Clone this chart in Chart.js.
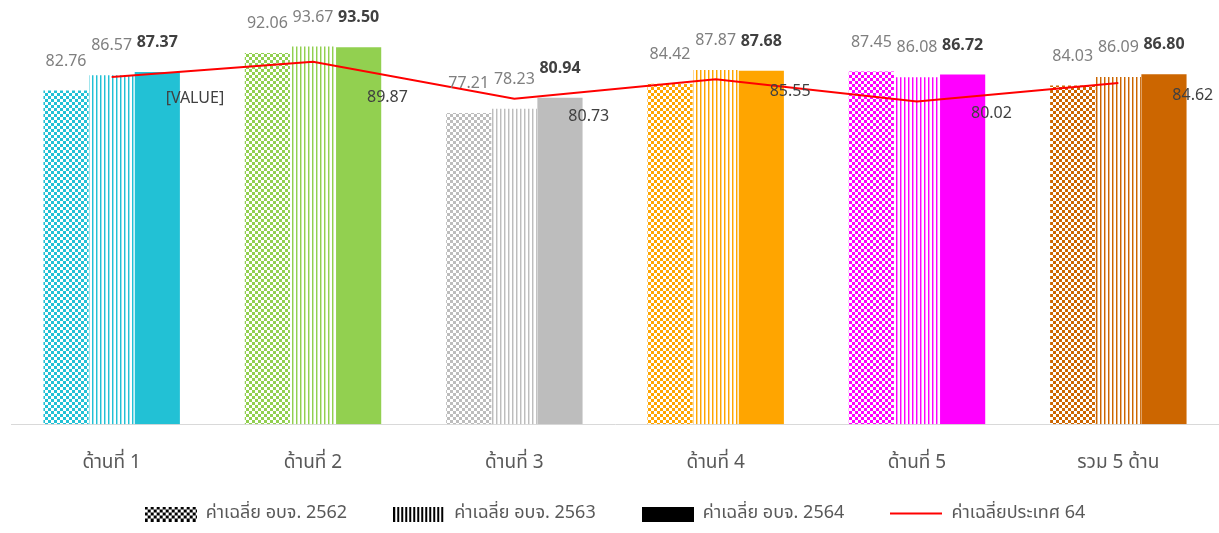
<!DOCTYPE html>
<html>
<head>
<meta charset="utf-8">
<script src="https://cdn.jsdelivr.net/npm/chart.js"></script>
<style>
  html, body { margin: 0; padding: 0; background: #fff; }
  #wrap { width: 1219px; height: 533px; }
</style>
</head>
<body>
<div id="wrap"><canvas id="chart"></canvas></div>
<script>
// data
const categories = ['ด้านที่ 1', 'ด้านที่ 2', 'ด้านที่ 3', 'ด้านที่ 4', 'ด้านที่ 5', 'รวม 5 ด้าน'];
const avg2562 = [82.76, 92.06, 77.21, 84.42, 87.45, 84.03];
const avg2563 = [86.57, 93.67, 78.23, 87.87, 86.08, 86.09];
const avg2564 = [87.37, 93.50, 80.94, 87.68, 86.72, 86.80];
const national64 = [86.1, 89.87, 80.73, 85.55, 80.02, 84.62];
const nationalLabels = ['[VALUE]', '89.87', '80.73', '85.55', '80.02', '84.62'];
const seriesNames = ['ค่าเฉลี่ย อบจ. 2562', 'ค่าเฉลี่ย อบจ. 2563', 'ค่าเฉลี่ย อบจ. 2564', 'ค่าเฉลี่ยประเทศ 64'];

const groupColors = ['#22C1D5', '#92D050', '#BDBDBD', '#FFA500', '#FF00FF', '#CC6600'];

const FONT = "'Noto Sans Thai', 'Noto Sans', 'DejaVu Sans', sans-serif";

function checker(color, size) {
    const c = document.createElement('canvas');
    c.width = size * 2; c.height = size * 2;
    const g = c.getContext('2d');
    g.fillStyle = '#fff';
    g.fillRect(0, 0, c.width, c.height);
    g.fillStyle = color;
    g.fillRect(0, 0, size, size);
    g.fillRect(size, size, size, size);
    return c;
}

function stripes(color) {
    const c = document.createElement('canvas');
    c.width = 4; c.height = 4;
    const g = c.getContext('2d');
    g.fillStyle = '#fff';
    g.fillRect(0, 0, 4, 4);
    g.fillStyle = color;
    g.fillRect(0, 0, 1, 4);
    g.globalAlpha = 0.45;
    g.fillRect(1, 0, 1, 4);
    return c;
}

const ctx = document.getElementById('chart').getContext('2d');
const checkerFills = groupColors.map(c => ctx.createPattern(checker(c, 3), 'repeat'));
const stripeFills = groupColors.map(c => ctx.createPattern(stripes(c), 'repeat'));

// legend swatches
function swatch(kind) {
    const c = document.createElement('canvas');
    c.width = 52; c.height = 15;
    const g = c.getContext('2d');
    if (kind === 'checker') {
        g.fillStyle = g.createPattern(checker('#000', 3), 'repeat');
        g.fillRect(0, 0, 52, 15);
    } else if (kind === 'stripes') {
        g.fillStyle = '#000';
        for (let x = 0; x < 52; x += 4) g.fillRect(x, 0, 2, 15);
    } else if (kind === 'solid') {
        g.fillStyle = '#000';
        g.fillRect(0, 0, 52, 15);
    } else {
        g.fillStyle = '#ff0000';
        g.fillRect(0, 6, 52, 2);
    }
    return c;
}
const legendSwatches = [swatch('checker'), swatch('stripes'), swatch('solid'), swatch('line')];

// value labels above bars and beside the line
const labelPlugin = {
    id: 'valueLabels',
    afterDatasetsDraw(chart) {
        const c = chart.ctx;
        c.save();
        c.textBaseline = 'middle';
        chart.data.datasets.forEach((ds, i) => {
            const meta = chart.getDatasetMeta(i);
            if (ds.type === 'line') {
                const offs = [23, 37, 19, 14, 13, 14];
                c.font = '16px ' + FONT;
                c.fillStyle = '#404040';
                c.textAlign = 'left';
                meta.data.forEach((pt, j) => {
                    c.fillText(nationalLabels[j], pt.x + 54, pt.y + offs[j]);
                });
            } else {
                c.textAlign = 'center';
                c.font = (i === 3 ? 'bold ' : '') + '16px ' + FONT;
                c.fillStyle = i === 3 ? '#404040' : '#7f7f7f';
                meta.data.forEach((bar, j) => {
                    c.fillText(ds.data[j].toFixed(2), bar.x, bar.y - 28);
                });
            }
        });
        c.restore();
    }
};

new Chart(ctx, {
    data: {
        labels: categories,
        datasets: [{
            type: 'line',
            label: seriesNames[3],
            data: national64,
            borderColor: '#ff0000',
            borderWidth: 2,
            pointRadius: 0,
            tension: 0,
            order: 0
        }, {
            type: 'bar',
            label: seriesNames[0],
            data: avg2562,
            backgroundColor: checkerFills,
            order: 1
        }, {
            type: 'bar',
            label: seriesNames[1],
            data: avg2563,
            backgroundColor: stripeFills,
            order: 1
        }, {
            type: 'bar',
            label: seriesNames[2],
            data: avg2564,
            backgroundColor: groupColors,
            order: 1
        }]
    },
    options: {
        responsive: true,
        maintainAspectRatio: false,
        animation: false,
        datasets: { bar: { categoryPercentage: 0.68, barPercentage: 0.99 } },
        layout: { padding: { top: 21, left: 11, right: 0, bottom: 0 } },
        scales: {
            x: {
                grid: { display: false },
                border: { color: '#d9d9d9', width: 1 },
                ticks: { color: '#595959', font: { family: FONT, size: 19 }, padding: 21 },
                afterFit(scale) { scale.height += 4; }
            },
            y: { display: false, min: 0, max: 100 }
        },
        plugins: {
            tooltip: { enabled: false },
            legend: {
                position: 'bottom',
                labels: {
                    usePointStyle: true,
                    pointStyleWidth: 52,
                    boxHeight: 15,
                    padding: 4,
                    color: '#595959',
                    font: { family: FONT, size: 18 },
                    generateLabels(chart) {
                        const order = [1, 2, 3, 0];
                        return order.map((di, k) => ({
                            text: chart.data.datasets[di].label + (k < 3 ? '         ' : ''),
                            datasetIndex: di,
                            pointStyle: legendSwatches[k],
                            fillStyle: '#000',
                            strokeStyle: 'transparent',
                            lineWidth: 0,
                            fontColor: '#595959',
                            hidden: false
                        }));
                    }
                }
            }
        }
    },
    plugins: [labelPlugin]
});
</script>
</body>
</html>
